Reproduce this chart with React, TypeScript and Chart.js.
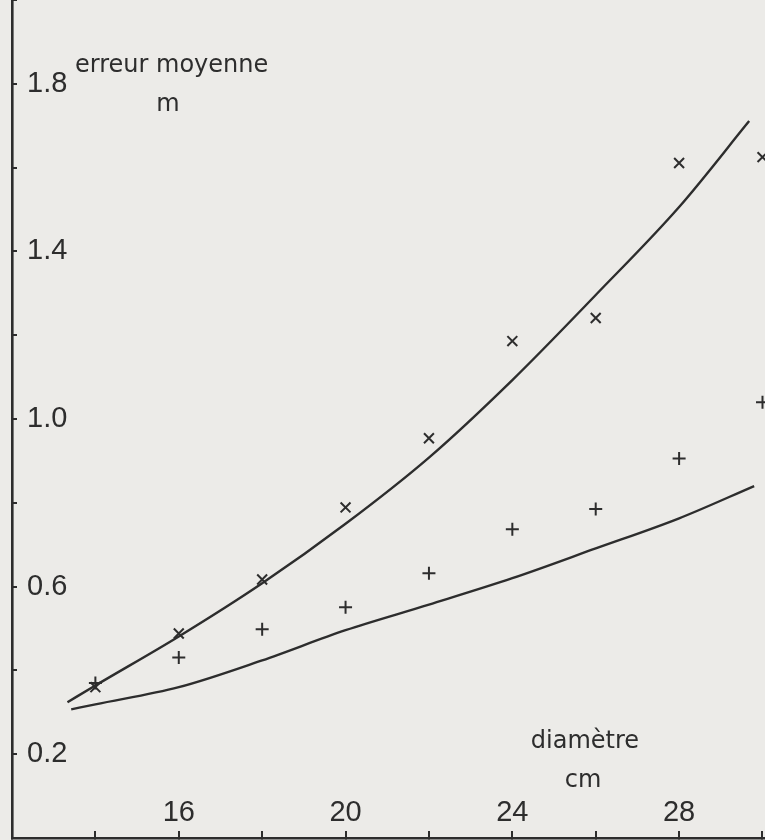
import React, { useEffect, useRef } from "react";
import { Chart, registerables } from "chart.js";

Chart.register(...registerables);

// Data
const diameters = [14, 16, 18, 20, 22, 24, 26, 28, 30];
const crossValues = [0.37, 0.498, 0.627, 0.799, 0.964, 1.196, 1.251, 1.621, 1.635]; // ×
const plusValues = [0.38, 0.441, 0.508, 0.561, 0.642, 0.747, 0.795, 0.916, 1.05]; // +
const upperCurveX = [13.33, 14, 16, 18, 20, 22, 24, 26, 28, 29.68];
const upperCurveY = [0.334, 0.374, 0.491, 0.618, 0.76, 0.918, 1.103, 1.306, 1.516, 1.721];
const lowerCurveX = [13.42, 14, 16, 18, 20, 22, 24, 26, 28, 29.8];
const lowerCurveY = [0.317, 0.329, 0.37, 0.434, 0.506, 0.567, 0.63, 0.701, 0.773, 0.85];
const yTickLabels = ["0.2", "0.6", "1.0", "1.4", "1.8"];
const xTickLabels = ["16", "20", "24", "28"];

const INK = "#2d2d2d";
const PAPER = "#ecebe8";
const TICK_FONT = "'Liberation Sans', Arial, sans-serif";
const TITLE_FONT = "'DejaVu Sans', sans-serif";

const paperPlugin = {
  id: "paper",
  beforeDraw(chart: any) {
    const { ctx, width, height } = chart;
    ctx.save();
    ctx.fillStyle = PAPER;
    ctx.fillRect(0, 0, width, height);
    ctx.restore();
  },
};

const titlesPlugin = {
  id: "titles",
  afterDraw(chart: any) {
    const { ctx, chartArea } = chart;
    ctx.save();
    ctx.fillStyle = INK;
    ctx.font = `24px ${TITLE_FONT}`;
    ctx.textBaseline = "alphabetic";
    ctx.textAlign = "left";
    ctx.fillText("erreur moyenne", chartArea.left + 63, chartArea.top + 72);
    ctx.textAlign = "center";
    ctx.fillText("m", chartArea.left + 156, chartArea.top + 111);
    ctx.fillText("diamètre", chartArea.left + 573, chartArea.bottom - 90);
    ctx.fillText("cm", chartArea.left + 571, chartArea.bottom - 51);
    ctx.restore();
  },
};

export default function App() {
  const ref = useRef<HTMLCanvasElement | null>(null);

  useEffect(() => {
    if (!ref.current) return;
    const chart = new Chart(ref.current, {
      type: "scatter",
      data: {
        datasets: [
          {
            type: "line",
            data: upperCurveX.map((x, i) => ({ x, y: upperCurveY[i] })),
            borderColor: INK,
            borderWidth: 2.4,
            pointRadius: 0,
            cubicInterpolationMode: "monotone",
            fill: false,
          } as any,
          {
            type: "line",
            data: lowerCurveX.map((x, i) => ({ x, y: lowerCurveY[i] })),
            borderColor: INK,
            borderWidth: 2.4,
            pointRadius: 0,
            cubicInterpolationMode: "monotone",
            fill: false,
          } as any,
          {
            data: diameters.map((x, i) => ({ x, y: crossValues[i] })),
            pointStyle: "crossRot",
            pointRadius: 7,
            borderColor: INK,
            borderWidth: 2,
            backgroundColor: INK,
          },
          {
            data: diameters.map((x, i) => ({ x, y: plusValues[i] })),
            pointStyle: "cross",
            pointRadius: 6.5,
            borderColor: INK,
            borderWidth: 2,
            backgroundColor: INK,
          },
        ],
      },
      options: {
        animation: false,
        responsive: false,
        events: [],
        layout: { padding: 0, autoPadding: false } as any,
        plugins: {
          legend: { display: false },
          tooltip: { enabled: false },
        },
        scales: {
          x: {
            type: "linear",
            position: "bottom",
            min: 12,
            max: 30.06,
            afterFit(scale: any) {
              scale.height = 2;
              scale.paddingLeft = 0;
              scale.paddingRight = 0;
              scale.paddingTop = 0;
              scale.paddingBottom = 0;
            },
            border: { display: true, color: INK, width: 2.6 },
            grid: {
              drawOnChartArea: false,
              drawTicks: true,
              tickLength: -7,
              color: INK,
              lineWidth: 2,
            },
            ticks: {
              stepSize: 2,
              includeBounds: false,
              autoSkip: false,
              maxRotation: 0,
              mirror: true,
              padding: 8,
              color: INK,
              font: { family: TICK_FONT, size: 29 },
              callback: (v: any) => {
                const s = String(v);
                return xTickLabels.includes(s) ? s : "";
              },
            },
          },
          y: {
            type: "linear",
            position: "left",
            min: 0.01,
            max: 2.01,
            afterFit(scale: any) {
              scale.width = 12;
              scale.paddingLeft = 0;
              scale.paddingRight = 0;
              scale.paddingTop = 0;
              scale.paddingBottom = 0;
            },
            border: { display: true, color: INK, width: 2.6 },
            grid: {
              drawOnChartArea: false,
              drawTicks: true,
              tickLength: -5,
              color: INK,
              lineWidth: 2,
            },
            ticks: {
              stepSize: 0.2,
              includeBounds: false,
              autoSkip: false,
              mirror: true,
              padding: 15,
              color: INK,
              font: { family: TICK_FONT, size: 29 },
              callback: (v: any) => {
                const s = Number(v).toFixed(1);
                return yTickLabels.includes(s) ? s : "";
              },
            },
          },
        },
      },
      plugins: [paperPlugin, titlesPlugin],
    });
    return () => chart.destroy();
  }, []);

  return (
    <div style={{ position: "absolute", left: 0, top: 0, width: 765, height: 840 }}>
      <canvas ref={ref} width={765} height={840} style={{ display: "block" }} />
    </div>
  );
}
